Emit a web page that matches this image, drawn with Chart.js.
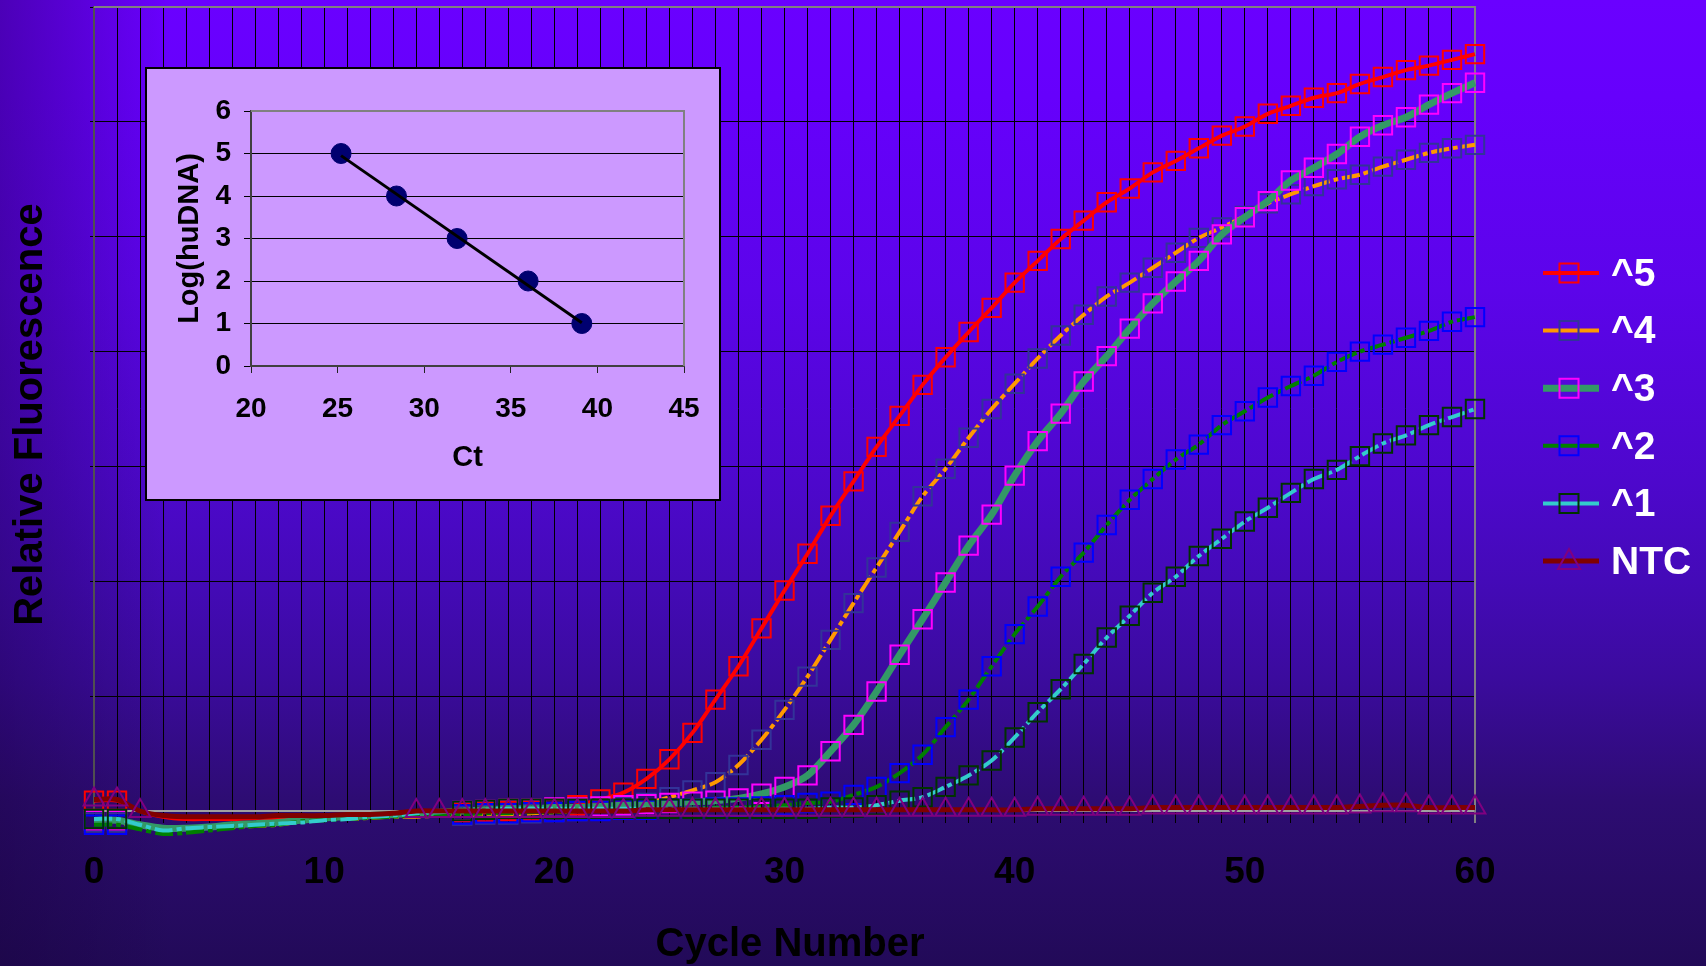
<!DOCTYPE html>
<html><head><meta charset="utf-8">
<script src="https://cdn.jsdelivr.net/npm/chart.js@4/dist/chart.umd.min.js"></script>
<style>
html,body{margin:0;padding:0;width:1706px;height:966px;overflow:hidden;background:#3a0aa0;}
#main{position:absolute;left:0;top:0;}
#inset{position:absolute;left:145px;top:67px;}
</style></head><body>
<canvas id="main" width="1706" height="966"></canvas>
<canvas id="inset" width="576" height="434"></canvas>
<script>
// ---------- data ----------
const cycles = [0,1,2,3,4,5,6,7,8,9,10,11,12,13,14,15,16,17,18,19,20,21,22,23,24,25,26,27,28,29,30,
  31,32,33,34,35,36,37,38,39,40,41,42,43,44,45,46,47,48,49,50,51,52,53,54,55,56,57,58,59,60];
const seriesNames = ['^5','^4','^3','^2','^1','NTC'];
const e5 = [0.09,0.09,0.0,-0.05,-0.07,-0.07,-0.07,-0.06,-0.06,-0.05,-0.04,-0.04,-0.03,-0.03,-0.02,-0.02,-0.01,-0.01,0.0,0.0,0.02,0.05,0.10,0.16,0.28,0.45,0.68,0.97,1.26,1.59,1.92,
  2.24,2.57,2.87,3.17,3.44,3.71,3.95,4.17,4.38,4.60,4.79,4.98,5.14,5.30,5.42,5.56,5.66,5.77,5.88,5.96,6.07,6.14,6.21,6.25,6.33,6.39,6.45,6.49,6.54,6.59];
const e4 = [-0.10,-0.10,-0.14,-0.16,-0.16,-0.15,-0.14,-0.13,-0.12,-0.09,-0.07,-0.07,-0.06,-0.05,-0.05,-0.04,-0.04,-0.03,-0.03,-0.02,-0.01,0.0,0.02,0.04,0.07,0.12,0.18,0.25,0.40,0.62,0.88,
  1.17,1.49,1.81,2.12,2.43,2.74,2.98,3.25,3.50,3.72,3.94,4.14,4.32,4.48,4.60,4.73,4.86,4.99,5.08,5.18,5.29,5.37,5.44,5.50,5.54,5.61,5.67,5.73,5.77,5.80];
const e3 = [-0.08,-0.08,-0.12,-0.15,-0.15,-0.14,-0.12,-0.11,-0.10,-0.08,-0.06,-0.05,-0.04,-0.03,-0.02,-0.01,0.0,0.01,0.02,0.02,0.03,0.03,0.04,0.05,0.06,0.07,0.08,0.09,0.11,0.15,0.21,
  0.31,0.52,0.75,1.04,1.36,1.67,1.99,2.31,2.58,2.92,3.22,3.46,3.74,3.96,4.20,4.42,4.61,4.79,5.02,5.17,5.31,5.49,5.60,5.72,5.87,5.97,6.04,6.15,6.25,6.34];
const e2 = [-0.12,-0.12,-0.16,-0.20,-0.19,-0.17,-0.15,-0.13,-0.12,-0.09,-0.08,-0.07,-0.06,-0.05,-0.04,-0.03,-0.03,-0.02,-0.02,-0.01,-0.01,0.0,0.0,0.01,0.01,0.02,0.02,0.03,0.03,0.04,0.05,
  0.07,0.08,0.14,0.21,0.33,0.49,0.73,0.97,1.26,1.54,1.78,2.04,2.25,2.49,2.71,2.89,3.06,3.19,3.36,3.48,3.60,3.70,3.79,3.91,4.00,4.06,4.12,4.18,4.26,4.30];
const e1 = [-0.07,-0.07,-0.12,-0.17,-0.15,-0.14,-0.13,-0.12,-0.11,-0.10,-0.08,-0.07,-0.05,-0.04,-0.02,-0.01,0.0,0.01,0.02,0.02,0.02,0.02,0.02,0.02,0.02,0.02,0.02,0.02,0.02,0.02,0.02,
  0.02,0.03,0.03,0.05,0.09,0.12,0.21,0.31,0.44,0.64,0.86,1.06,1.28,1.51,1.70,1.90,2.04,2.22,2.37,2.52,2.64,2.77,2.89,2.97,3.09,3.20,3.27,3.36,3.43,3.50];
const ntc = [0.10,0.10,0.0,-0.04,-0.05,-0.05,-0.05,-0.05,-0.04,-0.04,-0.04,-0.03,-0.03,-0.02,0.0,0.0,0.0,0.0,0.0,0.0,0.0,0.0,0.0,0.0,0.01,0.01,0.01,0.01,0.01,0.01,0.01,
  0.01,0.01,0.01,0.01,0.01,0.01,0.01,0.01,0.01,0.01,0.02,0.02,0.02,0.02,0.02,0.03,0.03,0.03,0.03,0.03,0.03,0.03,0.03,0.03,0.04,0.05,0.05,0.03,0.03,0.03];
const xTicks = [0,10,20,30,40,50,60];

// inset (standard curve)
const ctValues = [25.2, 28.4, 31.9, 36.0, 39.1];
const logDNA = [5, 4, 3, 2, 1];
const trendCt = [25.2, 39.1];
const trendLog = [4.95, 1.02];
const insetXTicks = [20,25,30,35,40,45];
const insetYTicks = [0,1,2,3,4,5,6];

// ---------- styles ----------
Chart.defaults.font.family = "'Liberation Sans', Arial, sans-serif";
const styles = [
  {line:'#ff0000', mark:'#ff0000', w:4, dash:[], shape:'rect'},
  {line:'#ff9900', mark:'#333399', w:4, dash:[18,4,5,4], shape:'rect'},
  {line:'#339966', mark:'#ff00ff', w:7, dash:[], shape:'rect'},
  {line:'#008000', mark:'#0000ff', w:4, dash:[18,4,5,4], shape:'rect'},
  {line:'#33cccc', mark:'#003300', w:4, dash:[18,4,5,4], shape:'rect'},
  {line:'#800000', mark:'#800080', w:5, dash:[], shape:'triangle'}
];
const allSeries = [e5, e4, e3, e2, e1, ntc];
const datasets = allSeries.map((arr, i) => ({
  label: seriesNames[i],
  data: cycles.map((c, k) => ({x: c, y: arr[k]})),
  borderColor: styles[i].line,
  borderWidth: styles[i].w,
  borderDash: styles[i].dash,
  pointStyle: styles[i].shape,
  pointBorderColor: styles[i].mark,
  pointBackgroundColor: 'rgba(0,0,0,0)',
  pointBorderWidth: 2,
  pointRadius: ctx => {
    const x = ctx.raw ? ctx.raw.x : 0;
    if (styles[i].shape === 'triangle') return (x >= 3 && x <= 13) ? 0 : 12;
    return (x >= 2 && x <= 15) ? 0 : 13;
  },
  fill: false,
  tension: 0.3,
  clip: false,
  order: 10 - i
}));

const bgPlugin = {
  id: 'bg',
  beforeDraw(chart) {
    const {ctx, width, height} = chart;
    ctx.save();
    const g = ctx.createLinearGradient(0, 0, 0, height);
    g.addColorStop(0, '#6a00ff');
    g.addColorStop(0.1, '#6600fc');
    g.addColorStop(0.3, '#5c04ea');
    g.addColorStop(0.5, '#4d08cc');
    g.addColorStop(0.6, '#440ab8');
    g.addColorStop(0.7, '#3b0b9e');
    g.addColorStop(0.83, '#2d0c72');
    g.addColorStop(1, '#220a58');
    ctx.fillStyle = g;
    ctx.fillRect(0, 0, width, height);
    const h = ctx.createLinearGradient(0, 0, 170, 0);
    h.addColorStop(0, 'rgba(20,0,50,0.35)');
    h.addColorStop(1, 'rgba(20,0,50,0)');
    ctx.fillStyle = h;
    ctx.fillRect(0, 0, 170, height);
    ctx.restore();
  }
};
const framePlugin = {
  id: 'frame',
  beforeDatasetsDraw(chart) {
    const {ctx, chartArea: a} = chart;
    ctx.save();
    ctx.strokeStyle = '#808080';
    ctx.lineWidth = 2;
    ctx.beginPath();
    ctx.moveTo(a.left, a.top);
    ctx.lineTo(a.right, a.top);
    ctx.lineTo(a.right, a.bottom + 12);
    ctx.stroke();
    ctx.restore();
  }
};
const legendPlugin = {
  id: 'customLegend',
  afterDraw(chart) {
    const {ctx} = chart;
    const ds = chart.data.datasets;
    ctx.save();
    ds.forEach((d, i) => {
      const y = 273 + i * 57.6;
      ctx.setLineDash([]);
      ctx.strokeStyle = d.borderColor;
      ctx.lineWidth = d.borderWidth;
      ctx.beginPath();
      ctx.moveTo(1543, y); ctx.lineTo(1599, y); ctx.stroke();
      ctx.strokeStyle = d.pointBorderColor;
      ctx.lineWidth = 2;
      ctx.beginPath();
      if (d.pointStyle === 'triangle') {
        ctx.moveTo(1569, y - 12); ctx.lineTo(1580, y + 8); ctx.lineTo(1558, y + 8); ctx.closePath();
      } else {
        ctx.rect(1559.5, y - 9.5, 19, 19);
      }
      ctx.stroke();
      ctx.fillStyle = '#ffffff';
      ctx.font = "bold 39px 'Liberation Sans', Arial, sans-serif";
      ctx.textBaseline = 'middle';
      ctx.textAlign = 'left';
      ctx.fillText(d.label, 1611, y + 2);
    });
    ctx.restore();
  }
};

new Chart(document.getElementById('main'), {
  type: 'line',
  data: {datasets},
  options: {
    responsive: false, animation: false, events: [],
    layout: {autoPadding: false, padding: {left: 0, right: 231, top: 7, bottom: 0}},
    plugins: {legend: {display: false}, tooltip: {enabled: false}},
    scales: {
      x: {
        type: 'linear', min: 0, max: 60,
        afterFit(s) { s.height = 155; },
        afterBuildTicks(s) { s.ticks = cycles.map(v => ({value: v})); },
        ticks: {autoSkip: false, maxRotation: 0, color: '#000', padding: 28,
          font: {size: 37, weight: 'bold'},
          callback: v => xTicks.includes(v) ? String(v) : ''},
        grid: {color: '#000', lineWidth: 1, tickLength: 12},
        border: {color: '#a0a0a0', width: 2},
        title: {display: true, text: ' Cycle Number', color: '#000',
          font: {size: 40, weight: 'bold', lineHeight: 1}, padding: {top: 0, bottom: 1}}
      },
      y: {
        min: 0, max: 7,
        afterFit(s) { s.width = 94; s.paddingTop = 0; s.paddingBottom = 0; },
        ticks: {stepSize: 1, display: false},
        grid: {color: '#000', lineWidth: 1, tickLength: 4},
        border: {color: '#505050', width: 2},
        title: {display: true, text: 'Relative Fluorescence ', color: '#000',
          font: {size: 40, weight: 'bold', lineHeight: 1.2}, padding: {top: 7, bottom: 0}}
      }
    }
  },
  plugins: [bgPlugin, framePlugin, legendPlugin]
});

// ---------- inset ----------
const insetBg = {
  id: 'insetBg',
  beforeDraw(chart) {
    const {ctx, width, height} = chart;
    ctx.save();
    ctx.fillStyle = '#cc99ff';
    ctx.fillRect(0, 0, width, height);
    ctx.restore();
  },
  beforeDatasetsDraw(chart) {
    const {ctx, chartArea: a} = chart;
    ctx.save();
    ctx.strokeStyle = '#808080';
    ctx.lineWidth = 2;
    ctx.beginPath();
    ctx.moveTo(a.left, a.top); ctx.lineTo(a.right, a.top); ctx.lineTo(a.right, a.bottom);
    ctx.stroke();
    ctx.restore();
  },
  afterDraw(chart) {
    const {ctx, width, height} = chart;
    ctx.save();
    ctx.strokeStyle = '#000';
    ctx.lineWidth = 2;
    ctx.strokeRect(1, 1, width - 2, height - 2);
    ctx.restore();
  }
};
new Chart(document.getElementById('inset'), {
  type: 'scatter',
  data: {datasets: [
    {label: 'fit', data: trendCt.map((x, i) => ({x, y: trendLog[i]})), showLine: true,
     borderColor: '#000', borderWidth: 3, pointRadius: 0, order: 1},
    {label: 'Log(huDNA)', data: ctValues.map((x, i) => ({x, y: logDNA[i]})),
     pointRadius: 10, pointBackgroundColor: '#000070', pointBorderColor: '#000070', pointBorderWidth: 1, order: 2}
  ]},
  options: {
    responsive: false, animation: false, events: [],
    layout: {autoPadding: false, padding: {left: 0, right: 37, top: 44, bottom: 0}},
    plugins: {legend: {display: false}, tooltip: {enabled: false}},
    scales: {
      x: {
        type: 'linear', min: 20, max: 45,
        afterFit(s) { s.height = 135; },
        afterBuildTicks(s) { s.ticks = insetXTicks.map(v => ({value: v})); },
        ticks: {color: '#000', padding: 19, font: {size: 28, weight: 'bold'}},
        grid: {drawOnChartArea: false, color: '#222', tickLength: 7},
        border: {color: '#404040', width: 2},
        title: {display: true, text: 'Ct', color: '#000',
          font: {size: 29, weight: 'bold', lineHeight: 1.2}, padding: {top: 0, bottom: 26}}
      },
      y: {
        min: 0, max: 6,
        afterFit(s) { s.width = 106; s.paddingTop = 0; s.paddingBottom = 0; },
        afterBuildTicks(s) { s.ticks = insetYTicks.map(v => ({value: v})); },
        ticks: {color: '#000', padding: 13, font: {size: 28, weight: 'bold'}},
        grid: {color: '#000', lineWidth: 1, tickLength: 7},
        border: {color: '#404040', width: 2},
        title: {display: true, text: 'Log(huDNA)', color: '#000',
          font: {size: 29, weight: 'bold', lineHeight: 1.2}, padding: {top: 28, bottom: 0}}
      }
    }
  },
  plugins: [insetBg]
});
</script>
</body></html>
